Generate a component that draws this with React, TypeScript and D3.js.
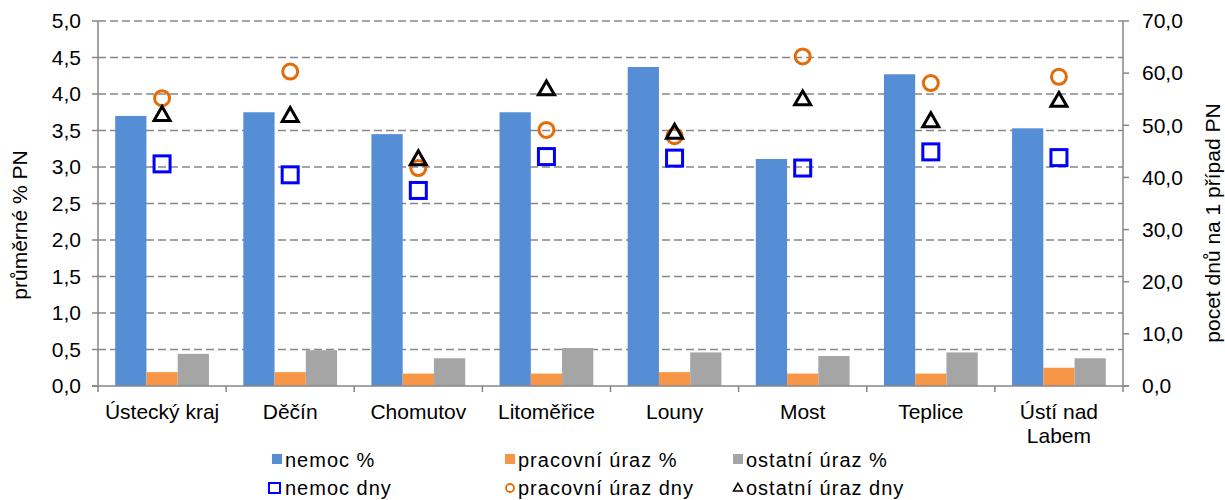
import React from "react";
import * as d3 from "d3";

const categories = ["Ústecký kraj", "Děčín", "Chomutov", "Litoměřice", "Louny", "Most", "Teplice", "Ústí nad Labem"];
const nemocPct = [3.70, 3.75, 3.45, 3.75, 4.37, 3.11, 4.27, 3.53];
const pracovniPct = [0.19, 0.19, 0.17, 0.17, 0.19, 0.17, 0.17, 0.25];
const ostatniPct = [0.44, 0.49, 0.38, 0.52, 0.46, 0.41, 0.46, 0.38];
const nemocDny = [42.6, 40.5, 37.5, 44.0, 43.7, 41.8, 44.9, 43.8];
const pracovniDny = [55.2, 60.3, 41.8, 49.1, 47.9, 63.2, 58.1, 59.3];
const ostatniDny = [52.0, 51.8, 43.5, 56.9, 48.6, 55.0, 50.8, 54.7];
const leftTicks = [0, 0.5, 1, 1.5, 2, 2.5, 3, 3.5, 4, 4.5, 5];
const rightTicks = [0, 10, 20, 30, 40, 50, 60, 70];
const barSeries = ["nemoc %", "pracovní úraz %", "ostatní úraz %"];
const pointSeries = ["nemoc dny", "pracovní úraz dny", "ostatní úraz dny"];

const barColors = ["#558ED5", "#F79646", "#A5A5A5"];
const FONT = "'Liberation Sans', Arial, sans-serif";

export default function App() {
  const W = 1225, H = 500;
  const left = 98, right = 1123, top = 21, bottom = 386;
  const x0 = d3.scaleBand<string>().domain(categories).range([left, right]).paddingInner(0).paddingOuter(0);
  const x1 = d3.scaleBand<string>().domain(barSeries).range([0, x0.bandwidth()]).paddingInner(0).paddingOuter(0.55);
  const yL = d3.scaleLinear().domain([0, 5]).range([bottom, top]);
  const yR = d3.scaleLinear().domain([0, 70]).range([bottom, top]);
  const barData = [nemocPct, pracovniPct, ostatniPct];
  const fmt = (v: number, d: number) => v.toFixed(d).replace(".", ",");
  const axisCol = "#868686";

  const tri = (cx: number, cy: number, s: number) => {
    const h = s * 0.866;
    return `M${cx},${cy - h * 0.6}L${cx + s / 2},${cy + h * 0.4}L${cx - s / 2},${cy + h * 0.4}Z`;
  };

  const fmtCat = (c: string) => (c === "Ústí nad Labem" ? ["Ústí nad", "Labem"] : [c]);

  return (
    <svg width={W} height={H} style={{ position: "absolute", left: 0, top: 0, background: "#fff" }} fontFamily={FONT}>
      {leftTicks.filter((t) => t > 0).map((t) => (
        <line key={"g" + t} x1={left} x2={right} y1={yL(t)} y2={yL(t)} stroke={axisCol} strokeWidth={1.5} strokeDasharray="8,4" />
      ))}
      {categories.map((c, i) => (
        <g key={c} transform={`translate(${x0(c)},0)`}>
          {barSeries.map((s, j) => (
            <rect key={s} x={x1(s)} y={yL(barData[j][i])} width={x1.bandwidth()} height={bottom - yL(barData[j][i])} fill={barColors[j]} />
          ))}
        </g>
      ))}
      <line x1={left} x2={left} y1={top} y2={bottom} stroke={axisCol} strokeWidth={1.5} />
      <line x1={right} x2={right} y1={top} y2={bottom} stroke={axisCol} strokeWidth={1.5} />
      <line x1={left - 6} x2={right + 6} y1={bottom} y2={bottom} stroke={axisCol} strokeWidth={1.5} />
      {leftTicks.map((t) => (
        <g key={"l" + t}>
          <line x1={left - 6} x2={left} y1={yL(t)} y2={yL(t)} stroke={axisCol} strokeWidth={1.5} />
          <text x={81} y={yL(t)} dy="0.35em" textAnchor="end" fontSize={21} fill="#000">{fmt(t, 1)}</text>
        </g>
      ))}
      {rightTicks.map((t) => (
        <g key={"r" + t}>
          <line x1={right} x2={right + 6} y1={yR(t)} y2={yR(t)} stroke={axisCol} strokeWidth={1.5} />
          <text x={1142} y={yR(t)} dy="0.35em" textAnchor="start" fontSize={21} fill="#000">{fmt(t, 1)}</text>
        </g>
      ))}
      {categories.map((c) => (
        <line key={"ct" + c} x1={x0(c)!} x2={x0(c)!} y1={bottom} y2={bottom + 6} stroke={axisCol} strokeWidth={1.5} />
      ))}
      <line x1={right} x2={right} y1={bottom} y2={bottom + 6} stroke={axisCol} strokeWidth={1.5} />
      {categories.map((c) => (
        <text key={"cl" + c} x={x0(c)! + x0.bandwidth() / 2} y={419} textAnchor="middle" fontSize={21} fill="#000">
          {fmtCat(c).map((ln, k) => (
            <tspan key={k} x={x0(c)! + x0.bandwidth() / 2} dy={k === 0 ? 0 : 24}>{ln}</tspan>
          ))}
        </text>
      ))}
      {categories.map((c, i) => {
        const cx = x0(c)! + x0.bandwidth() / 2;
        return (
          <g key={"m" + c}>
            <rect x={cx - 8} y={yR(nemocDny[i]) - 8} width={16} height={16} fill="none" stroke="#0000FF" strokeWidth={3} />
            <circle cx={cx} cy={yR(pracovniDny[i])} r={7.5} fill="none" stroke="#E36C09" strokeWidth={3} />
            <path d={tri(cx, yR(ostatniDny[i]), 16)} fill="none" stroke="#000" strokeWidth={3} strokeLinejoin="miter" />
          </g>
        );
      })}
      <text transform="translate(27,225) rotate(-90)" textAnchor="middle" fontSize={21} fill="#000">průměrné % PN</text>
      <text transform="translate(1220,223) rotate(-90)" textAnchor="middle" fontSize={21} fill="#000">pocet dnů na 1 případ PN</text>
      {barSeries.map((s, j) => {
        const lx = [272, 505, 733][j];
        return (
          <g key={"lb" + s}>
            <rect x={lx} y={454} width={10} height={10} fill={barColors[j]} />
            <text x={lx + 13} y={460} dy="0.35em" fontSize={20} letterSpacing={1} fill="#000">{s}</text>
          </g>
        );
      })}
      {pointSeries.map((s, j) => {
        const lx = [272, 505, 733][j];
        return (
          <g key={"lp" + s}>
            {j === 0 && <rect x={lx - 3} y={483} width={11} height={10} fill="none" stroke="#0000FF" strokeWidth={2} />}
            {j === 1 && <circle cx={lx + 5} cy={488} r={4} fill="none" stroke="#E36C09" strokeWidth={1.8} />}
            {j === 2 && <path d={tri(lx + 5, 488, 9)} fill="none" stroke="#000" strokeWidth={1.5} />}
            <text x={lx + 13} y={488} dy="0.35em" fontSize={20} letterSpacing={1} fill="#000">{s}</text>
          </g>
        );
      })}
    </svg>
  );
}
